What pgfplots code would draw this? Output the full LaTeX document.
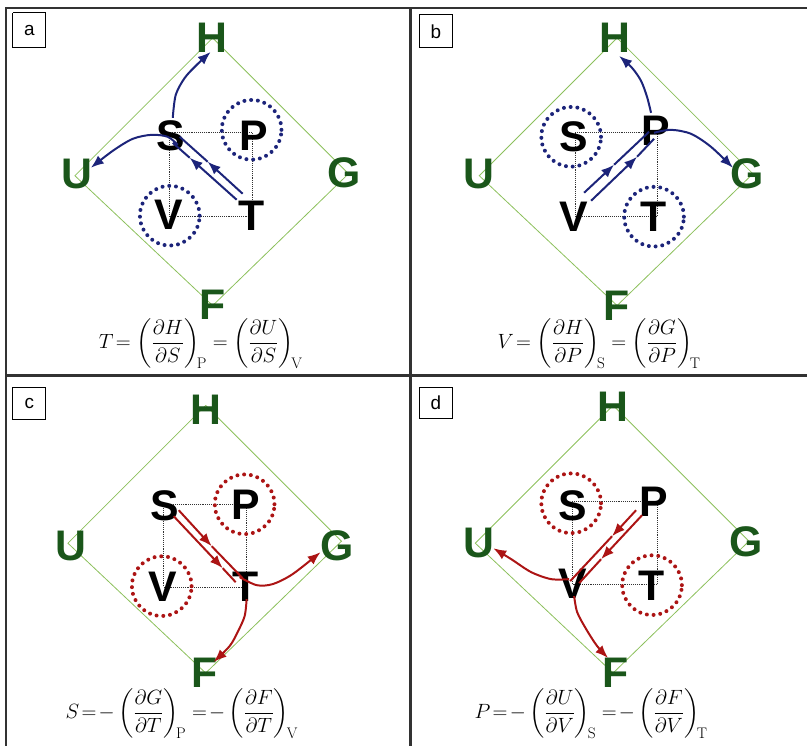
\documentclass[border=0pt]{standalone}
\usepackage{amsmath}
\usepackage{fontspec}
\newfontfamily\arialf{Liberation Sans}
\usepackage{pgfplots}
\pgfplotsset{compat=1.18}
\usetikzlibrary{arrows.meta}
\definecolor{navyA}{RGB}{28,36,122}
\definecolor{redA}{RGB}{172,20,20}
\definecolor{dkgreen}{RGB}{26,86,26}
\definecolor{ltgreen}{RGB}{140,192,92}
\definecolor{frameC}{RGB}{50,50,50}
\newcommand{\BL}[3]{\node[inner sep=0pt,anchor=center,text=#3,font=\arialf\fontsize{43}{43}\selectfont\bfseries] at (axis cs:#1) {#2};}
\newcommand{\PL}[2]{\node[inner sep=0pt,anchor=center,font=\arialf\fontsize{19}{19}\selectfont] at (axis cs:#1) {#2};}
\newcommand{\eq}{\mskip2mu{=}\mskip2mu}
\tikzset{arr/.style={line width=2pt,-{Latex[length=13bp,width=10bp]}},
ln/.style={line width=2pt},
dotc/.style={only marks,mark=o,mark size=30,every mark/.append style={draw=#1,line width=4pt,dash pattern=on 0pt off 6.8pt,line cap=round}}}
\begin{document}
\begin{tikzpicture}
\begin{axis}[width=808bp,height=747bp,scale only axis,xmin=0,xmax=808,ymin=0,ymax=747,
y dir=reverse,hide axis,clip=false]
\addplot[draw=none,forget plot] coordinates {(0,0) (808,747)};
% frames
\addplot[frameC,line width=2.4pt] coordinates {(6,747) (6,8) (808,8)};
\addplot[frameC,line width=2.4pt] coordinates {(411,8) (411,747)};
\addplot[frameC,line width=2.4pt] coordinates {(6,376) (808,376)};
% label boxes
\addplot[black,line width=1pt] coordinates {(13,13) (46,13) (46,48) (13,48) (13,13)};
\addplot[black,line width=1pt] coordinates {(420,15) (453,15) (453,48) (420,48) (420,15)};
\addplot[black,line width=1pt] coordinates {(13,388) (46,388) (46,420) (13,420) (13,388)};
\addplot[black,line width=1pt] coordinates {(420,388) (453,388) (453,419) (420,419) (420,388)};
\PL{29.5,31}{a}
\PL{436.5,31.5}{b}
\PL{29.5,404}{c}
\PL{436.5,403.5}{d}
% diamonds
\addplot[ltgreen,line width=0.8pt] coordinates {(213,38) (349,174) (213,306) (75,176) (213,38)};
\addplot[ltgreen,line width=0.8pt] coordinates {(618,38) (754,174) (618,306) (480,176) (618,38)};
\addplot[ltgreen,line width=0.8pt] coordinates {(206,406) (342,542) (206,674) (68,544) (206,406)};
\addplot[ltgreen,line width=0.8pt] coordinates {(614,406) (750,542) (614,674) (476,544) (614,406)};
% squares
\addplot[black!80,line width=0.9pt,densely dotted] coordinates {(170,133) (253,133) (253,217) (170,217) (170,133)};
\addplot[black!80,line width=0.9pt,densely dotted] coordinates {(576,133) (658,133) (658,217) (576,217) (576,133)};
\addplot[black!80,line width=0.9pt,densely dotted] coordinates {(164,505) (247,505) (247,588) (164,588) (164,505)};
\addplot[black!80,line width=0.9pt,densely dotted] coordinates {(573,502) (658,502) (658,585) (573,585) (573,502)};
% dotted circles
\addplot[dotc=navyA] coordinates {(252,130) (170,216)};
\addplot[dotc=navyA] coordinates {(572,137) (655,217)};
\addplot[dotc=redA] coordinates {(245,505) (162,587)};
\addplot[dotc=redA] coordinates {(572,504) (653,586)};
% green letters
\BL{212,38}{H}{dkgreen}\BL{77,174}{U}{dkgreen}\BL{345,173}{G}{dkgreen}\BL{213,305}{F}{dkgreen}
\BL{616,38}{H}{dkgreen}\BL{480,174}{U}{dkgreen}\BL{748,174}{G}{dkgreen}\BL{617,306}{F}{dkgreen}
\BL{206,410}{H}{dkgreen}\BL{71,547}{U}{dkgreen}\BL{338,547}{G}{dkgreen}\BL{205,674}{F}{dkgreen}
\BL{614,407}{H}{dkgreen}\BL{480,544}{U}{dkgreen}\BL{747,543}{G}{dkgreen}\BL{616,674}{F}{dkgreen}
% black letters
\BL{171,136}{S}{black}\BL{254,136}{P}{black}\BL{169,215}{V}{black}\BL{252,216}{T}{black}
\BL{575,137}{S}{black}\BL{657,131}{P}{black}\BL{575,217}{V}{black}\BL{655,217}{T}{black}
\BL{165,507}{S}{black}\BL{246,506}{P}{black}\BL{163,588}{V}{black}\BL{246,588}{T}{black}
\BL{574,507}{S}{black}\BL{655,503}{P}{black}\BL{574,585}{V}{black}\BL{653,587}{T}{black}
% panel a arrows
\addplot[navyA,arr,smooth] coordinates {(173,118) (176,95) (185,78) (197,65) (211,52)};
\addplot[navyA,arr,smooth] coordinates {(178,145) (168,137) (152,135) (133,139) (113,151) (91,168)};
\addplot[navyA,arr] coordinates {(237,200) (190,158)};
\addplot[navyA,ln] coordinates {(190,158) (173,143)};
\addplot[navyA,arr] coordinates {(243,194) (208,162)};
\addplot[navyA,ln] coordinates {(208,162) (180,137)};
% panel b arrows
\addplot[navyA,arr,smooth] coordinates {(652,113) (648,97) (642,81) (633,68) (620,56)};
\addplot[navyA,arr,smooth] coordinates {(655,133) (672,130) (692,134) (712,147) (734,168)};
\addplot[navyA,arr] coordinates {(585,193) (615,165)};
\addplot[navyA,ln] coordinates {(615,165) (650,132)};
\addplot[navyA,arr] coordinates {(592,201) (638,157)};
\addplot[navyA,ln] coordinates {(638,157) (655,139)};
% panel c arrows
\addplot[redA,arr] coordinates {(179,511) (212,547)};
\addplot[redA,ln] coordinates {(212,547) (243,579)};
\addplot[redA,arr] coordinates {(174,517) (223,569)};
\addplot[redA,ln] coordinates {(223,569) (236,583)};
\addplot[redA,arr,smooth] coordinates {(240,578) (257,586) (273,585) (293,575) (321,553)};
\addplot[redA,arr,smooth] coordinates {(247,600) (245,617) (238,633) (230,647) (214,663)};
% panel d arrows
\addplot[redA,arr] coordinates {(637,511) (613,537)};
\addplot[redA,ln] coordinates {(613,537) (571,582)};
\addplot[redA,arr] coordinates {(643,516) (602,560)};
\addplot[redA,ln] coordinates {(602,560) (580,584)};
\addplot[redA,arr,smooth] coordinates {(570,580) (552,580) (532,573) (512,560) (494,549)};
\addplot[redA,arr,smooth] coordinates {(575,597) (578,613) (587,630) (598,647) (609,659)};
% formulas
\node[font=\fontsize{22}{26}\selectfont] at (axis cs:201,344) {$T\eq\left(\dfrac{\partial H}{\partial S}\right)_{\!\mathrm{P}}\eq\left(\dfrac{\partial U}{\partial S}\right)_{\!\mathrm{V}}$};
\node[font=\fontsize{22}{26}\selectfont] at (axis cs:600,344) {$V\eq\left(\dfrac{\partial H}{\partial P}\right)_{\!\mathrm{S}}\eq\left(\dfrac{\partial G}{\partial P}\right)_{\!\mathrm{T}}$};
\node[font=\fontsize{22}{26}\selectfont] at (axis cs:182,715) {$S\eq{-}\left(\dfrac{\partial G}{\partial T}\right)_{\!\mathrm{P}}\eq{-}\left(\dfrac{\partial F}{\partial T}\right)_{\!\mathrm{V}}$};
\node[font=\fontsize{22}{26}\selectfont] at (axis cs:592,715) {$P\eq{-}\left(\dfrac{\partial U}{\partial V}\right)_{\!\mathrm{S}}\eq{-}\left(\dfrac{\partial F}{\partial V}\right)_{\!\mathrm{T}}$};
\end{axis}
\end{tikzpicture}
\end{document}
